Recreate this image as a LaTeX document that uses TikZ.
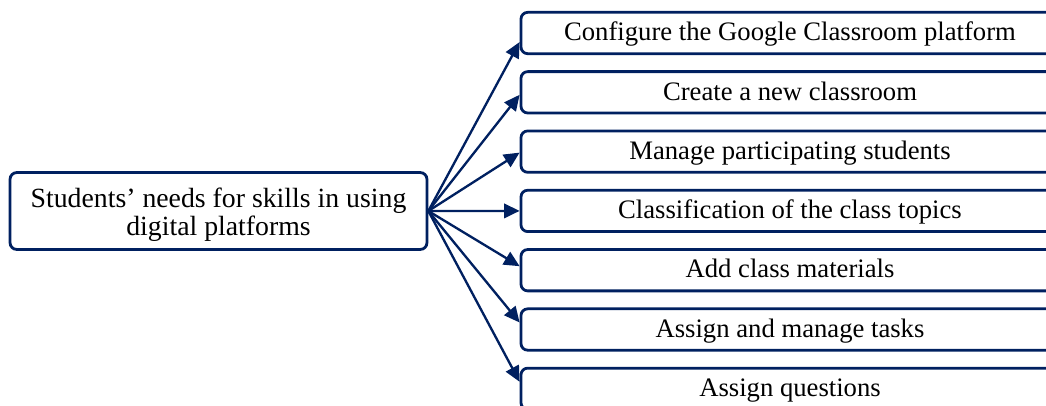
\documentclass[tikz,border=0pt]{standalone}
\usepackage{fontspec}
\setmainfont{Liberation Serif}
\usetikzlibrary{positioning,calc,arrows.meta}
\definecolor{navy}{RGB}{0,32,96}

\begin{document}
\begin{tikzpicture}[
    x=0.45pt, y=-0.45pt,
    box/.style={draw=navy, line width=1.25pt, rounded corners=3pt, inner sep=0pt, align=center},
    needbox/.style={box, minimum width=187.6pt, minimum height=34.6pt, text height=24.5pt, text depth=2.6pt, font=\fontsize{12.5}{12.6}\selectfont},
    skillbox/.style={box, minimum width=242.1pt, minimum height=18.6pt, text height=9.5pt, text depth=2.5pt, font=\fontsize{12}{14}\selectfont},
    link/.style={draw=navy, line width=1.05pt, -{Triangle[length=7pt,width=6.5pt]}}
]
    \clip (0,0) rectangle (1046,405);

    % Need
    \node[needbox] (need) at (218.5, 211) {Students’ needs for skills in using\\digital platforms};

    % Skills
    \foreach \t [count=\i] in {Configure the Google Classroom platform, Create a new classroom,
        Manage participating students, Classification of the class topics,
        Add class materials, Assign and manage tasks, Assign questions}
        \node[skillbox] (s\i) at (790, {33+59.3*(\i-1)}) {\t};

    % Links
    \foreach \i/\dy in {1/9, 2/2.5, 3/1, 4/0, 5/-4, 6/-7, 7/-7}
        \draw[link] (need.east) -- ($(s\i.west)+(0,\dy)$);
\end{tikzpicture}
\end{document}
